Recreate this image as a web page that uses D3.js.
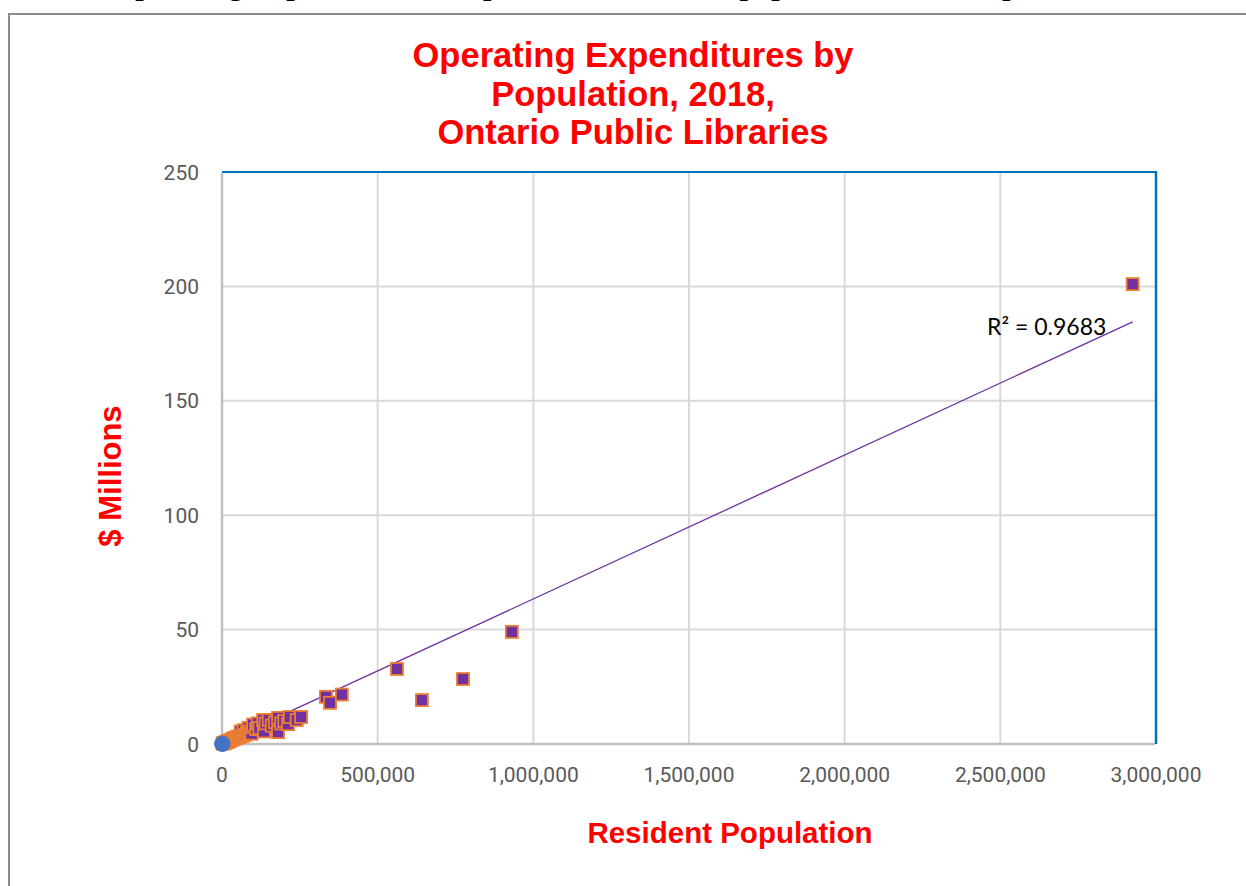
<!DOCTYPE html>
<html lang="en">
<head>
<meta charset="UTF-8">
<title>Operating Expenditures by Population, 2018</title>
<script src="https://cdn.jsdelivr.net/npm/d3@7"></script>
<style>
    body { margin: 0; background: #fff; }
    svg { display: block; }
</style>
</head>
<body>
<svg id="chart" width="1246" height="886"></svg>
<script>
    // library data: resident population vs operating expenditures ($ millions)
    let population = [2925000, 931000, 774000, 642000, 562000, 385000, 347000, 334000,
        254000, 240000, 218000, 212000, 200000, 190000, 180000, 180000, 170000, 160000,
        150000, 140000, 135000, 132000, 120000, 115000, 110000, 100000, 100000, 95000,
        90000, 85000, 85000, 80000, 75000, 70000, 70000, 65000, 60000, 60000, 55000,
        50000, 47000, 44000, 40000, 37000, 34000, 31000, 28000, 25000, 22000, 20000,
        18000, 16000, 14000, 12000, 10000, 8000, 6000, 4000, 2000];
    let expenditures = [201, 49, 28.4, 19.2, 32.8, 21.6, 18.0, 20.6,
        11.8, 10.5, 11.8, 8.7, 10.0, 9.0, 11.4, 5.2, 9.5, 8.0,
        10.5, 9.0, 5.5, 10.5, 7.0, 9.0, 6.5, 7.4, 8.5, 4.5,
        5.5, 4.8, 7.0, 5.0, 4.0, 4.2, 6.0, 3.5, 3.8, 5.5, 3.0,
        3.2, 2.6, 2.8, 2.3, 2.5, 2.0, 1.9, 1.6, 1.5, 1.3, 1.1,
        1.0, 0.9, 0.8, 0.7, 0.6, 0.5, 0.4, 0.3, 0.15];
    // small (first nations) libraries drawn as circles
    let smallPopulation = [800, 1500];
    let smallExpenditures = [0.05, 0.1];

    let xTicks = [0, 500000, 1000000, 1500000, 2000000, 2500000, 3000000];
    let yTicks = [0, 50, 100, 150, 200, 250];
    let rSquared = "R² = 0.9683";
    // trendline
    let trendSlope = 62.9e-6;
    let trendIntercept = 0.5;

    let svg = d3.select("#chart");

    // caption of the page above the chart, cut off (only descenders show)
    svg.append("text")
        .attr("x", 112).attr("y", -5)
        .attr("font-family", "Liberation Serif")
        .attr("font-weight", "bold")
        .attr("font-size", 30)
        .text("Operating Expenditures compared with resident population, Ontario public libraries, 2018");

    // chart frame
    svg.append("rect")
        .attr("x", 9).attr("y", 14)
        .attr("width", 1260).attr("height", 900)
        .attr("fill", "none")
        .attr("stroke", "#8c8c8c")
        .attr("stroke-width", 2);

    let pLeft = 222, pRight = 1156, pTop = 172, pBottom = 744;

    let x = d3.scaleLinear().domain([0, 3000000]).range([pLeft, pRight]);
    let y = d3.scaleLinear().domain([0, 250]).range([pBottom, pTop]);

    // gridlines
    svg.append("g")
        .selectAll("line")
        .data(xTicks.slice(1, -1))
        .join("line")
        .attr("x1", d => x(d)).attr("x2", d => x(d))
        .attr("y1", pTop).attr("y2", pBottom)
        .attr("stroke", "#d9d9d9").attr("stroke-width", 2);
    svg.append("g")
        .selectAll("line")
        .data(yTicks.slice(1, -1))
        .join("line")
        .attr("x1", pLeft).attr("x2", pRight)
        .attr("y1", d => y(d)).attr("y2", d => y(d))
        .attr("stroke", "#d9d9d9").attr("stroke-width", 2);

    // plot border: top/right blue, left/bottom grey
    svg.append("line")
        .attr("x1", pLeft).attr("x2", pRight + 1)
        .attr("y1", pTop).attr("y2", pTop)
        .attr("stroke", "#0070c0").attr("stroke-width", 2);
    svg.append("line")
        .attr("x1", pRight).attr("x2", pRight)
        .attr("y1", pTop).attr("y2", pBottom)
        .attr("stroke", "#0070c0").attr("stroke-width", 2.5);
    svg.append("line")
        .attr("x1", pLeft).attr("x2", pLeft)
        .attr("y1", pTop + 1).attr("y2", pBottom)
        .attr("stroke", "#bfbfbf").attr("stroke-width", 2.5);
    svg.append("line")
        .attr("x1", pLeft).attr("x2", pRight - 1)
        .attr("y1", pBottom).attr("y2", pBottom)
        .attr("stroke", "#bfbfbf").attr("stroke-width", 2.5);

    // tick labels
    svg.append("g")
        .selectAll("text")
        .data(yTicks)
        .join("text")
        .attr("x", 199)
        .attr("y", d => y(d))
        .attr("dy", "0.36em")
        .attr("text-anchor", "end")
        .attr("font-family", "Roboto")
        .attr("font-size", 21)
        .attr("fill", "#595959")
        .text(d => d);
    svg.append("g")
        .selectAll("text")
        .data(xTicks)
        .join("text")
        .attr("x", d => x(d))
        .attr("y", 782)
        .attr("text-anchor", "middle")
        .attr("font-family", "Roboto")
        .attr("font-size", 21)
        .attr("fill", "#595959")
        .text(d => d3.format(",")(d));

    // trendline
    let xMin = d3.min(smallPopulation.concat(population)), xMax = d3.max(population);
    svg.append("line")
        .attr("x1", x(xMin)).attr("y1", y(trendIntercept + trendSlope * xMin))
        .attr("x2", x(xMax)).attr("y2", y(trendIntercept + trendSlope * xMax))
        .attr("stroke", "#7030a0").attr("stroke-width", 1.3);

    // points (small first so the big ones sit on top)
    let points = d3.range(population.length).map(i => ({p: population[i], e: expenditures[i]}))
        .sort((a, b) => a.p - b.p);
    let sq = 12;
    svg.append("g")
        .selectAll("rect")
        .data(points)
        .join("rect")
        .attr("x", d => x(d.p) - sq / 2)
        .attr("y", d => y(d.e) - sq / 2)
        .attr("width", sq).attr("height", sq)
        .attr("fill", "#7030a0")
        .attr("stroke", "#ed7d31")
        .attr("stroke-width", 1.8);

    svg.append("g")
        .selectAll("circle")
        .data(smallPopulation)
        .join("circle")
        .attr("cx", d => x(d))
        .attr("cy", (d, i) => y(smallExpenditures[i]))
        .attr("r", 8)
        .attr("fill", "#4472c4");

    // R² label
    svg.append("text")
        .attr("x", 987).attr("y", 335)
        .attr("font-family", "Lato")
        .attr("font-size", 23)
        .attr("fill", "#000")
        .text(rSquared);

    // titles
    let title = svg.append("text")
        .attr("text-anchor", "middle")
        .attr("font-family", "Liberation Sans")
        .attr("font-weight", "bold")
        .attr("font-size", 34.5)
        .attr("fill", "#ff0000");
    ["Operating Expenditures by", "Population, 2018,", "Ontario Public Libraries"].forEach((t, i) => {
        title.append("tspan").attr("x", 633).attr("y", 67 + i * 38.5).text(t);
    });

    svg.append("text")
        .attr("x", 730).attr("y", 843)
        .attr("text-anchor", "middle")
        .attr("font-family", "Liberation Sans")
        .attr("font-weight", "bold")
        .attr("font-size", 29.5)
        .attr("fill", "#ff0000")
        .text("Resident Population");

    svg.append("text")
        .attr("transform", "translate(121,476) rotate(-90)")
        .attr("text-anchor", "middle")
        .attr("font-family", "Liberation Sans")
        .attr("font-weight", "bold")
        .attr("font-size", 31)
        .attr("fill", "#ff0000")
        .text("$ Millions");
</script>
</body>
</html>
